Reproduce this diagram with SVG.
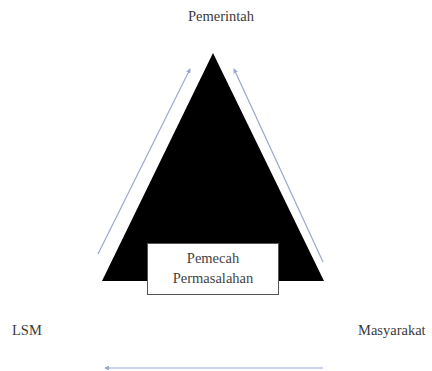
<svg xmlns="http://www.w3.org/2000/svg" width="432" height="371" viewBox="0 0 432 371">
<style>
.lbl{font-family:"Liberation Serif",serif;font-size:14.5px;fill:#3a3a3a}
.box{font-family:"Liberation Serif",serif;font-size:14.5px;fill:#444;text-anchor:middle}
.conn{stroke:#9aa6cf;stroke-width:1.2;fill:none;marker-end:url(#ah)}
</style>
<defs>
<marker id="ah" viewBox="0 0 6 6" refX="5" refY="3" markerWidth="4" markerHeight="4" orient="auto">
<path d="M0,0 L6,3 L0,6 z" fill="#9aa6cf"/>
</marker>
</defs>
<rect width="432" height="371" fill="#fff"/>
<g id="triangle">
<polygon points="213,53 102,281 324,281" fill="#000"/>
</g>
<g id="pemecah">
<rect x="147.5" y="243.5" width="131" height="51" fill="#fff" stroke="#555" stroke-width="1"/>
<text class="box" x="213" y="263">Pemecah</text>
<text class="box" x="213" y="283">Permasalahan</text>
</g>
<g id="pemerintah"><text class="lbl" x="221" y="21" text-anchor="middle">Pemerintah</text></g>
<g id="lsm"><text class="lbl" x="12" y="335">LSM</text></g>
<g id="masyarakat"><text class="lbl" x="358" y="335">Masyarakat</text></g>
<g id="connectors">
<line class="conn" x1="98" y1="254" x2="190" y2="69"/>
<line class="conn" x1="323" y1="262" x2="234" y2="69"/>
<line class="conn" x1="323" y1="368" x2="105" y2="368"/>
</g>
</svg>
